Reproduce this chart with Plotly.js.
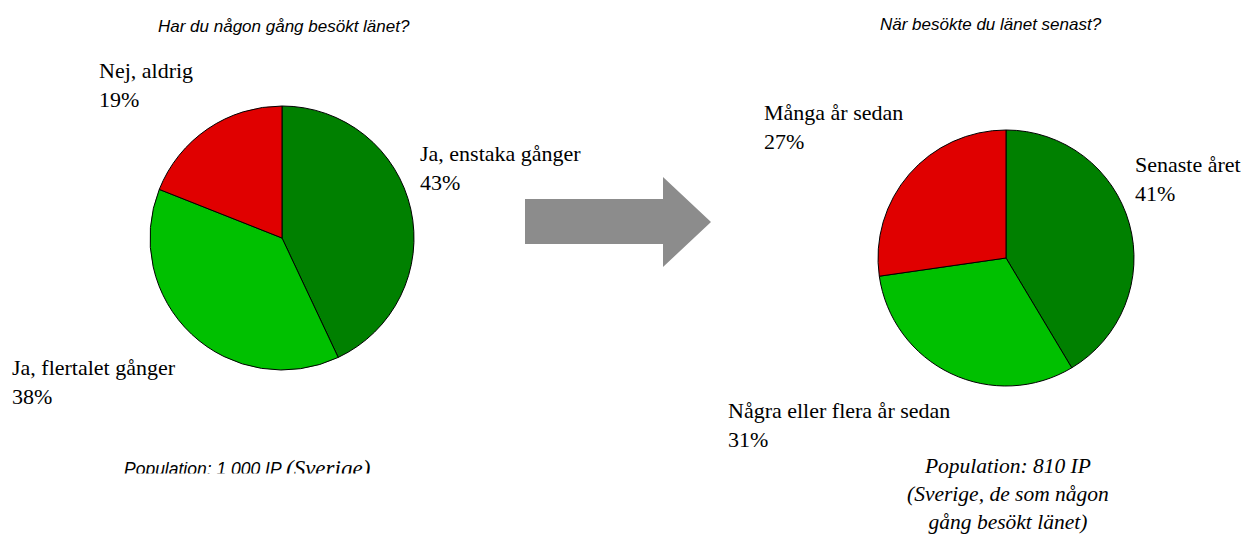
<!DOCTYPE html>
<html>
<head>
<meta charset="utf-8">
<script src="https://cdn.plot.ly/plotly-3.0.1.min.js"></script>
<style>html,body{margin:0;padding:0;background:#fff;}#chart{width:1245px;height:534px;}</style>
</head>
<body>
<div id="chart"></div>
<script>
// ---- data ----
const leftTitle = 'Har du någon gång besökt länet?';
const leftLabels = ['Ja, enstaka gånger', 'Ja, flertalet gånger', 'Nej, aldrig'];
const leftValues = [43, 38, 19];

const rightTitle = 'När besökte du länet senast?';
const rightLabels = ['Senaste året', 'Några eller flera år sedan', 'Många år sedan'];
const rightValues = [41, 31, 27];

const sliceColors = ['#008000', '#00C000', '#E00000'];

const leftNote1 = 'Population: 1 000 IP';
const leftNote2 = '(Sverige)';
const rightNote = ['Population: 810 IP', '(Sverige, de som någon', 'gång besökt länet)'];

// ---- layout helpers (pixel -> paper) ----
const W = 1245, H = 534;
const px = x => x / W;
const py = y => 1 - y / H;

function pieDomain(cx, cy, r) {
  return { x: [px(cx - r), px(cx + r)], y: [py(cy + r), py(cy - r)] };
}

const leftPie = {
  type: 'pie', labels: leftLabels, values: leftValues,
  marker: { colors: sliceColors, line: { color: '#000', width: 1 } },
  sort: false, direction: 'clockwise', rotation: 0,
  textinfo: 'none', hoverinfo: 'label+percent',
  domain: pieDomain(282, 238, 132)
};
const rightPie = {
  type: 'pie', labels: rightLabels, values: rightValues,
  marker: { colors: sliceColors, line: { color: '#000', width: 1 } },
  sort: false, direction: 'clockwise', rotation: 0,
  textinfo: 'none', hoverinfo: 'label+percent',
  domain: pieDomain(1006, 258, 128)
};

const serif = 'Liberation Serif, Times New Roman, serif';
const sans = 'Liberation Sans, Arial, sans-serif';

// label positions (left x, vertical middle y) in px
const leftLabelPos = [[418, 168], [10, 382], [97, 85]];
const rightLabelPos = [[1133, 179], [726, 425], [762, 127]];

const annotations = [];
function addLabels(labels, values, pos) {
  labels.forEach((l, i) => {
    annotations.push({
      xref: 'paper', yref: 'paper', x: px(pos[i][0]), y: py(pos[i][1]),
      xanchor: 'left', yanchor: 'middle', align: 'left', showarrow: false,
      text: l + '<br>' + values[i] + '%',
      font: { family: serif, size: 22, color: '#000' }
    });
  });
}
addLabels(leftLabels, leftValues, leftLabelPos);
addLabels(rightLabels, rightValues, rightLabelPos);

annotations.push({
  xref: 'paper', yref: 'paper', x: px(284), y: py(26), xanchor: 'center', yanchor: 'middle',
  showarrow: false, text: '<i>' + leftTitle + '</i>', font: { family: sans, size: 17, color: '#000' }
});
annotations.push({
  xref: 'paper', yref: 'paper', x: px(991), y: py(24), xanchor: 'center', yanchor: 'middle',
  showarrow: false, text: '<i>' + rightTitle + '</i>', font: { family: sans, size: 17, color: '#000' }
});
annotations.push({
  xref: 'paper', yref: 'paper', x: px(122), y: py(469), xanchor: 'left', yanchor: 'middle',
  showarrow: false, text: '<i>' + leftNote1 + '</i>', font: { family: sans, size: 17.5, color: '#000' }
});
annotations.push({
  xref: 'paper', yref: 'paper', x: px(284), y: py(468), xanchor: 'left', yanchor: 'middle',
  showarrow: false, text: '<i>' + leftNote2 + '</i>', font: { family: serif, size: 23, color: '#000' }
});
// white cover reproducing the clipped caption
annotations.push({
  xref: 'paper', yref: 'paper', x: px(250), y: py(473), xanchor: 'center', yanchor: 'top',
  showarrow: false, text: ' ', width: 320, height: 60, bgcolor: '#ffffff', borderpad: 0
});
annotations.push({
  xref: 'paper', yref: 'paper', x: px(1008), y: py(494), xanchor: 'center', yanchor: 'middle',
  showarrow: false, align: 'center', text: '<i>' + rightNote.join('<br>') + '</i>',
  font: { family: serif, size: 21.5, color: '#000' }
});

// block arrow (decoration)
const arrowPts = [[525, 199], [663, 199], [663, 177], [711, 222], [663, 267], [663, 244], [525, 244]];
const arrowPath = 'M ' + arrowPts.map(p => px(p[0]).toFixed(5) + ' ' + py(p[1]).toFixed(5)).join(' L ') + ' Z';

const layout = {
  width: W, height: H,
  margin: { l: 0, r: 0, t: 0, b: 0 },
  paper_bgcolor: '#ffffff', plot_bgcolor: '#ffffff',
  showlegend: false,
  annotations: annotations,
  shapes: [{
    type: 'path', xref: 'paper', yref: 'paper', path: arrowPath,
    fillcolor: '#8C8C8C', line: { width: 0 }, layer: 'above'
  }]
};

Plotly.newPlot('chart', [leftPie, rightPie], layout, { displayModeBar: false, staticPlot: true });
</script>
</body>
</html>
